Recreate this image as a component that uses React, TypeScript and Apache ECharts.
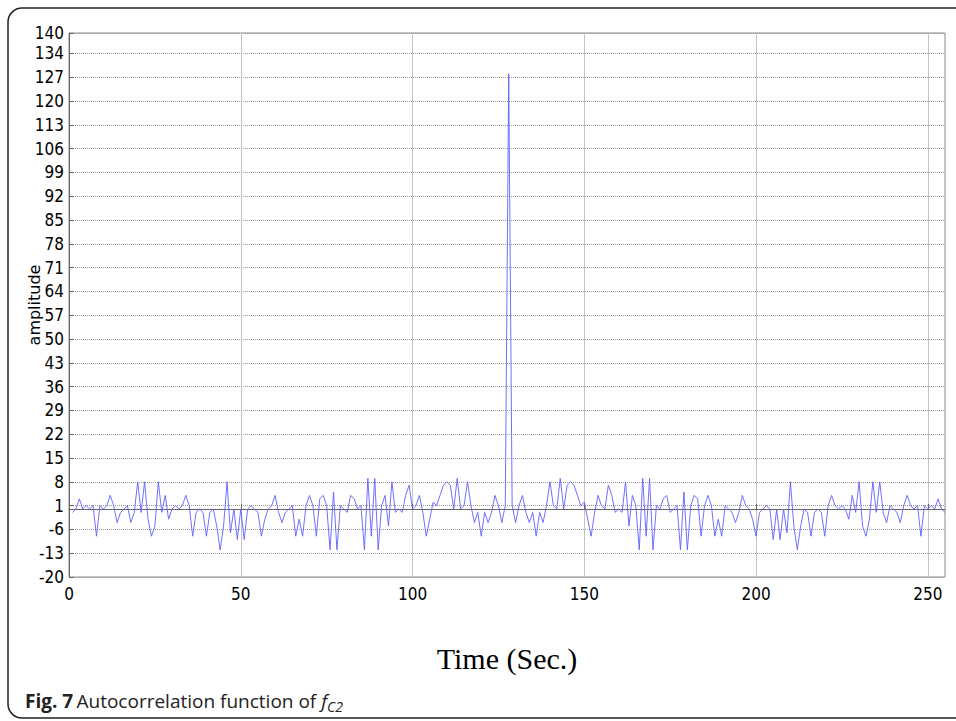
import React, { useEffect, useRef } from 'react';
import * as echarts from 'echarts';

// Lags (samples) 1..255
const lags: number[] = Array.from({ length: 255 }, (_, i) => i + 1);

// Amplitude, lag 1 .. lag 127
const leftHalf: number[] = [
  -1, 0, 3, 0, 1, 0, 1, -8, 1, 0,
  1, 4, 1, -4, -1, 0, 1, -4, -1, 8,
  -1, 8, -3, -8, -5, 8, -1, 4, -3, 0,
  1, 0, 1, 4, 1, -8, -1, 0, -1, -8,
  -1, 0, -5, -12, -5, 8, -7, 0, -9, 0,
  -9, 0, 1, 0, -1, -8, -3, 0, 1, 4,
  -1, -4, -1, 0, 1, -8, -3, -8, 1, 4,
  1, -8, 3, 4, 1, -12, 5, -12, 1, 0,
  -1, 4, 3, 0, 1, -12, 9, -8, 9, -12,
  1, 4, -5, 8, -1, 0, -1, 4, 7, 0,
  1, 4, -1, -8, -3, 2, 1, 4, 7, 8,
  7, 0, 9, 0, 1, 8, 1, -4, -1, -8,
  -1, -4, -1, 4, 1, -4, 1,
];
// Central peak, lag 128
const peak: number[] = [128];
// lag 129 .. lag 255
const rightHalf: number[] = [
  1, -4, 1, 4, -1, -4, -1, -8, -1, -4,
  1, 8, 1, 0, 9, 0, 7, 8, 7, 4,
  1, 2, -3, -8, -1, 4, 1, 0, 7, 4,
  -1, 0, -1, 8, -5, 4, 1, -12, 9, -8,
  9, -12, 1, 0, 3, 4, -1, 0, 1, -12,
  5, -12, 1, 4, 3, -8, 1, 4, 1, -8,
  -3, -8, 1, 0, -1, -4, -1, 4, 1, 0,
  -3, -8, -1, 0, 1, 0, -9, 0, -9, 0,
  -7, 8, -5, -12, -5, 0, -1, -8, -1, 0,
  -1, -8, 1, 4, 1, 0, 1, 0, -3, 4,
  -1, 8, -5, -8, -3, 8, -1, 8, -1, -4,
  1, 0, -1, -4, 1, 4, 1, 0, 1, -8,
  1, 0, 1, 0, 3, 0, -1,
];

const amplitudes: number[] = [...leftHalf, ...peak, ...rightHalf];

const yMin = -20;
const yMax = 140;
const yStep = 7;
const xMin = 0;
const xMax = 255;
const xStep = 50;

const narrow = "'Liberation Sans Narrow', 'DejaVu Sans Condensed', 'Roboto', sans-serif";

export default function App() {
  const ref = useRef<HTMLDivElement>(null);
  useEffect(() => {
    document.body.style.margin = '0';
    const chart = echarts.init(ref.current!, null, { renderer: 'svg' });
    const seriesData = lags.map((l, i) => [l, amplitudes[i]]);
    chart.setOption({
      animation: false,
      backgroundColor: '#ffffff',
      grid: {
        left: 69,
        top: 33,
        right: 11,
        bottom: 144,
        show: true,
        borderColor: '#8a8a8a',
        borderWidth: 1,
        backgroundColor: 'transparent',
      },
      xAxis: {
        type: 'value',
        min: xMin,
        max: xMax,
        interval: xStep,
        axisLine: { show: true, lineStyle: { color: '#666', width: 1 } },
        axisTick: { show: true, inside: true, length: 5, lineStyle: { color: '#666' } },
        axisLabel: {
          color: '#000',
          fontFamily: narrow,
          fontSize: 17,
          margin: 8,
          showMaxLabel: false,
        },
        splitLine: { show: true, lineStyle: { color: '#c4c4c4', width: 1, type: 'solid' } },
        name: 'Time (Sec.)',
        nameLocation: 'middle',
        nameGap: 66,
        nameMoveOverlap: false,
        nameTextStyle: { fontFamily: "'Liberation Serif', 'DejaVu Serif', serif", fontSize: 30, color: '#000' },
      },
      yAxis: {
        type: 'value',
        min: yMin,
        max: yMax,
        interval: yStep,
        axisLine: { show: true, lineStyle: { color: '#666', width: 1 } },
        axisTick: { show: true, inside: true, length: 5, lineStyle: { color: '#666' } },
        axisLabel: {
          color: '#000',
          fontFamily: narrow,
          fontSize: 17,
          margin: 5,
        },
        splitLine: { show: true, lineStyle: { color: '#9a9a9a', width: 1, type: 'dotted' } },
        name: 'amplitude',
        nameLocation: 'middle',
        nameGap: 27,
        nameRotate: 90,
        nameMoveOverlap: false,
        nameTextStyle: { fontFamily: "'DejaVu Sans', sans-serif", fontSize: 16, color: '#000' },
      },
      series: [
        {
          type: 'line',
          data: seriesData,
          showSymbol: false,
          symbol: 'none',
          lineStyle: { color: '#6060ff', width: 1, opacity: 0.9 },
          z: 5,
        },
      ],
      graphic: [
        {
          type: 'rect',
          shape: { x: 8, y: 8, width: 1000, height: 710, r: 14 },
          style: { fill: 'none', stroke: '#222', lineWidth: 1.5 },
          silent: true,
          z: -1,
        },
        {
          type: 'text',
          left: 25,
          top: 689,
          style: {
            text: '{b|Fig. 7} {n|Autocorrelation function of }{i|f}{s|C2}',
            rich: {
              b: { fontFamily: "'Open Sans', sans-serif", fontWeight: 'bold', fontSize: 19, fill: '#222', lineHeight: 24 },
              n: { fontFamily: "'Open Sans', sans-serif", fontSize: 19, fill: '#222', lineHeight: 24 },
              i: { fontFamily: "'Open Sans', sans-serif", fontStyle: 'italic', fontSize: 19, fill: '#222', lineHeight: 24 },
              s: { fontFamily: "'Open Sans', sans-serif", fontStyle: 'italic', fontSize: 14, fill: '#222', lineHeight: 24, padding: [10, 0, 0, 0] },
            },
          },
        },
      ],
    });
    return () => chart.dispose();
  }, []);
  return <div ref={ref} style={{ width: 956, height: 721 }} />;
}
